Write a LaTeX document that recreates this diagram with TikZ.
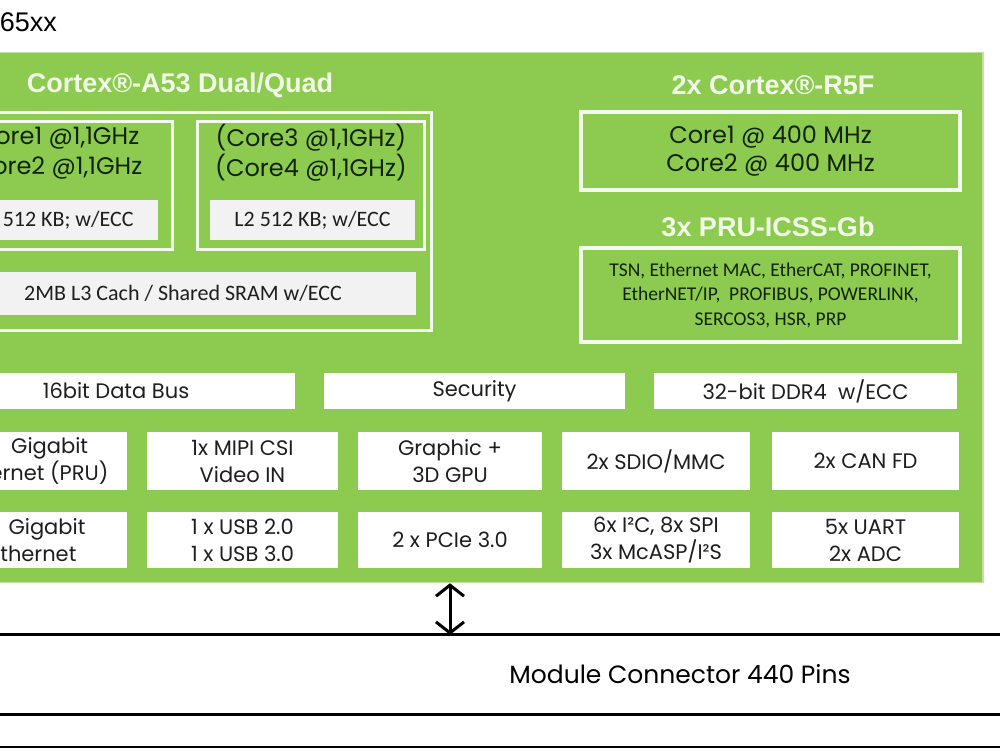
\documentclass[tikz,border=0pt]{standalone}
\usepackage{fontspec}
\setmainfont{Poppins}
\newfontfamily\headfont{Liberation Sans}
\newfontfamily\calfont{Carlito}
\usetikzlibrary{arrows.meta}
\definecolor{socgreen}{HTML}{8CCB4F}
\definecolor{frame}{HTML}{F4FAEE}
\definecolor{cachegray}{HTML}{F2F2F2}
\definecolor{ink}{HTML}{1E1E1E}
\definecolor{coreink}{HTML}{13230B}
\definecolor{headink}{HTML}{F2FAE8}
\newcommand{\pxfont}[2]{\fontsize{#1}{#2}\selectfont}

\begin{document}
\begin{tikzpicture}[x=1pt, y=-1pt,
  soc/.style={fill=socgreen, draw=socgreen!55!white, line width=1.5pt,
              minimum width=1066pt, minimum height=530pt, inner sep=0pt},
  grp/.style={draw=frame, line width=3pt, inner sep=0pt},
  hd/.style={font=\headfont\bfseries\pxfont{27}{30}, text=headink},
  core/.style={font=\pxfont{24}{30}, text=coreink, align=center, inner sep=0pt},
  cachebox/.style={fill=cachegray, inner sep=0pt, font=\calfont\pxfont{22}{24}, text=ink},
  io/.style={fill=white, inner sep=0pt, align=center, font=\pxfont{21}{27}, text=ink},
  bus/.style={{Straight Barb[length=11pt,width=28pt]}-{Straight Barb[length=11pt,width=28pt]},
              line width=3pt, draw=black},
  rule/.style={draw=black, line width=3pt},
]
\useasboundingbox (0,0) rectangle (1000,750);
\clip (0,0) rectangle (1000,750);

\node[anchor=east, inner sep=0pt, font=\headfont\pxfont{27}{30}] (name) at (57,22) {AM65xx};

\node[soc] (soc) at (450,317.5) {};

\node[hd] (a53) at (180,85) {Cortex®-A53 Dual/Quad};
\node[grp, minimum width=501pt, minimum height=218pt] (a53box) at (180.5,221) {};
\node[grp, minimum width=227pt, minimum height=128pt] (clA) at (58.5,185) {};
\node[grp, minimum width=227pt, minimum height=128pt] (clB) at (310.5,185) {};
\node[core] (coresA) at (58,153) {Core1 @1,1GHz\\Core2 @1,1GHz};
\node[core] (coresB) at (311,153) {(Core3 @1,1GHz)\\(Core4 @1,1GHz)};
\node[cachebox, minimum width=205pt, minimum height=40pt] (l2A) at (55.5,220) {L2 512 KB; w/ECC};
\node[cachebox, minimum width=205pt, minimum height=40pt] (l2B) at (312.5,220) {L2 512 KB; w/ECC};
\node[cachebox, minimum width=466pt, minimum height=43pt] (l3) at (183,293.5) {2MB L3 Cach / Shared SRAM w/ECC};

\node[hd] (r5) at (773,85) {2x Cortex®-R5F};
\node[grp, core, line width=3.5pt, minimum width=379pt, minimum height=78pt,
      font=\pxfont{24}{28}] (r5box) at (770.5,151) {Core1 @ 400 MHz\\Core2 @ 400 MHz};
\node[hd] (pru) at (768,227) {3x PRU-ICSS-Gb};
\node[grp, core, line width=3.5pt, minimum width=379pt, minimum height=94pt,
      font=\calfont\pxfont{19.5}{24.5}] (prubox) at (770.5,295)
  {TSN, Ethernet MAC, EtherCAT, PROFINET,\\EtherNET/IP,~ PROFIBUS, POWERLINK,\\SERCOS3, HSR, PRP};

\node[io, minimum width=358pt, minimum height=36pt] (dbus) at (116,391) {16bit Data Bus};
\node[io, minimum width=301pt, minimum height=36pt] (sec) at (474.5,391) {Security};
\node[io, minimum width=303pt, minimum height=36pt] (ddr) at (805.5,391) {32-bit DDR4~ w/ECC};

\node[io, minimum width=188pt, minimum height=58pt] (gbpru) at (33,461) {2x~ Gigabit\\Ethernet (PRU)};
\node[io, minimum width=191pt, minimum height=58pt] (csi) at (242.5,461) {1x MIPI CSI\\Video IN};
\node[io, minimum width=184pt, minimum height=58pt] (gpu) at (450,461) {Graphic +\\3D GPU};
\node[io, minimum width=188pt, minimum height=58pt] (sdio) at (656,461) {2x SDIO/MMC};
\node[io, minimum width=187pt, minimum height=58pt] (can) at (865.5,461) {2x CAN FD};

\node[io, minimum width=188pt, minimum height=56pt] (gbe) at (33,540) {1x~ Gigabit\\Ethernet};
\node[io, minimum width=191pt, minimum height=56pt] (usb) at (242.5,540) {1 x USB 2.0\\1 x USB 3.0};
\node[io, minimum width=184pt, minimum height=56pt] (pcie) at (450,540) {2 x PCIe 3.0};
\node[io, minimum width=188pt, minimum height=56pt] (serial) at (656,540) {6x I²C, 8x SPI\\3x McASP/I²S};
\node[io, minimum width=187pt, minimum height=56pt] (uart) at (865.5,540) {5x UART\\2x ADC};

\node[inner sep=0pt, minimum width=1400pt, minimum height=79pt, font=\pxfont{25}{28}]
  (conn) at (680,674.5) {Module Connector 440 Pins};
\draw[rule] (conn.north west) -- (conn.north east);
\draw[rule] (conn.south west) -- (conn.south east);
\draw[line width=2pt] ([yshift=-33pt]conn.south west) -- ([yshift=-33pt]conn.south east);

\draw[bus] (soc.south) -- (soc.south |- conn.north);
\end{tikzpicture}
\end{document}
